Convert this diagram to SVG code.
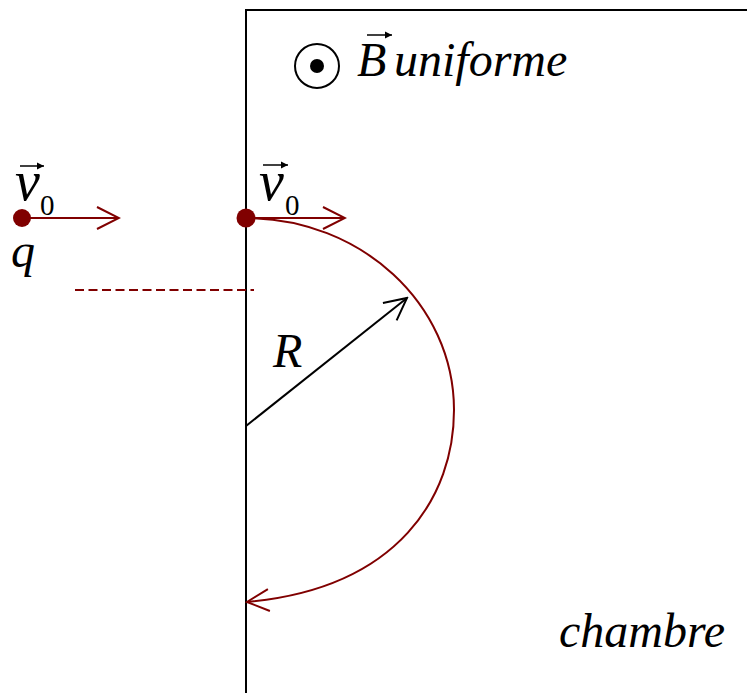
<svg xmlns="http://www.w3.org/2000/svg" width="747" height="693" viewBox="0 0 747 693">
<style>
.t{font-family:"Liberation Serif","Times New Roman",serif;font-style:italic;font-size:48px;fill:#000}
.v{font-size:56px}
.s{font-family:"Liberation Serif","Times New Roman",serif;font-size:29px;fill:#000}
.red{stroke:#800000;fill:none;stroke-width:2}
.blk{stroke:#000;fill:none;stroke-width:2}
</style>
<defs>
<marker id="ar" viewBox="-24 -13 26 26" markerWidth="26" markerHeight="26" refX="0" refY="0" orient="auto" markerUnits="userSpaceOnUse">
<path d="M-22,-11 L0,0 L-22,11" fill="none" stroke="#800000" stroke-width="2"/>
</marker>
<marker id="ab" viewBox="-24 -13 26 26" markerWidth="26" markerHeight="26" refX="0" refY="0" orient="auto" markerUnits="userSpaceOnUse">
<path d="M-22,-11 L0,0 L-22,11" fill="none" stroke="#000" stroke-width="2"/>
</marker>
<marker id="sm" viewBox="-8 -4 9 8" markerWidth="9" markerHeight="8" refX="0" refY="0" orient="auto" markerUnits="userSpaceOnUse">
<path d="M-7,-3.5 L0,0 L-7,3.5 Z" fill="#000"/>
</marker>
</defs>
<g id="chamber">
<path class="blk" d="M246,693 V10 H747"/>
</g>
<g id="connectors">
<line class="red" x1="75" y1="290" x2="254" y2="290" stroke-dasharray="9 4.5"/>
<line class="red" x1="22" y1="218" x2="119" y2="218" marker-end="url(#ar)"/>
<line class="red" x1="246" y1="218" x2="345" y2="218" marker-end="url(#ar)"/>
<path class="red" d="M246,218 C361,218 454,304 454,410 C454,495 400,588 247,602" marker-end="url(#ar)"/>
<line class="blk" x1="246" y1="426" x2="407" y2="298" marker-end="url(#ab)"/>
</g>
<g id="particle-left">
<circle cx="22" cy="218" r="9" fill="#800000"/>
<text class="t v" x="15" y="200">v</text>
<line x1="20" y1="166" x2="44" y2="166" stroke="#000" stroke-width="1.5" marker-end="url(#sm)"/>
<text class="s" x="40" y="215">0</text>
<text class="t" x="11" y="267">q</text>
</g>
<g id="particle-entry">
<circle cx="246" cy="218" r="9.5" fill="#800000"/>
<text class="t v" x="259" y="200">v</text>
<line x1="263" y1="165" x2="288" y2="165" stroke="#000" stroke-width="1.5" marker-end="url(#sm)"/>
<text class="s" x="285" y="215">0</text>
</g>
<g id="field">
<circle cx="317" cy="66" r="22" fill="none" stroke="#000" stroke-width="2"/>
<circle cx="317" cy="66" r="7" fill="#000"/>
<text class="t" x="357" y="76" font-size="50">B</text>
<line x1="367" y1="35" x2="392" y2="35" stroke="#000" stroke-width="1.5" marker-end="url(#sm)"/>
<text class="t" x="394" y="76">uniforme</text>
</g>
<g id="radius-label">
<text class="t" x="273" y="367">R</text>
</g>
<g id="chambre-label">
<text class="t" x="559" y="647">chambre</text>
</g>
</svg>
